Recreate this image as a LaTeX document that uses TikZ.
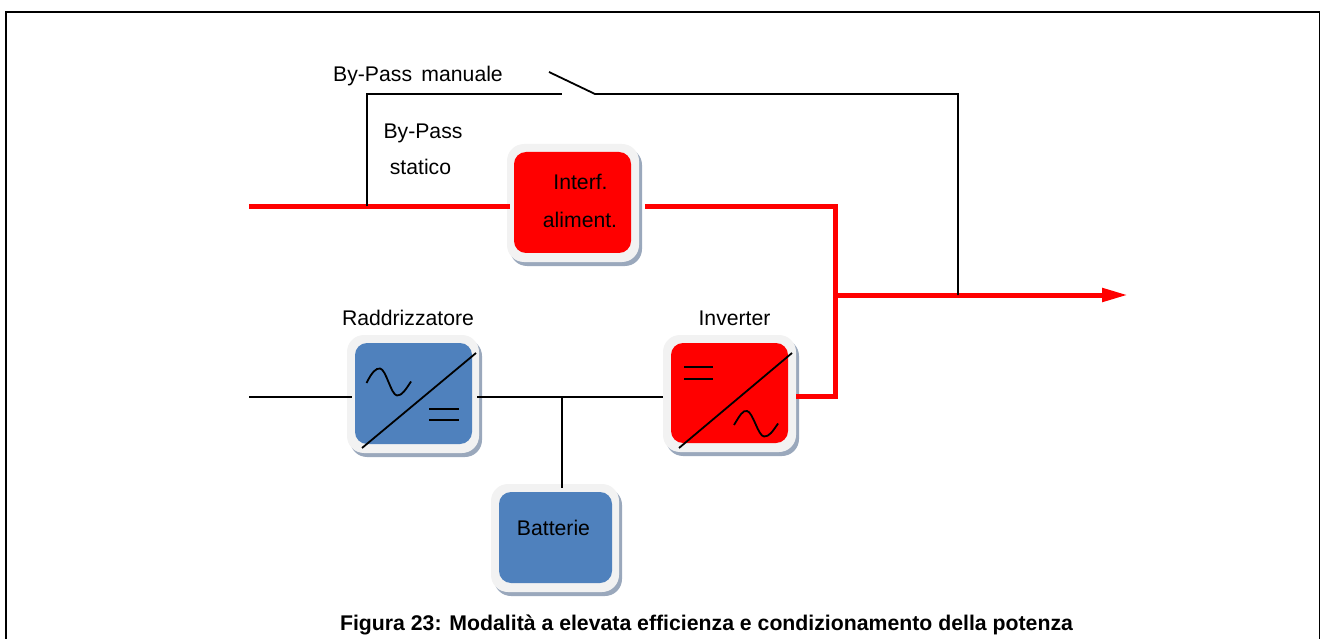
\documentclass[tikz,border=0pt]{standalone}
\usepackage{fontspec}
\setmainfont{Liberation Sans}
\usetikzlibrary{shadows,arrows.meta}
\definecolor{boxblue}{HTML}{4F81BD}
\definecolor{boxrim}{HTML}{F2F2F2}
\definecolor{boxshade}{HTML}{9AA8BC}
\tikzset{
  x=1pt,y=-1pt,
  rim/.style={fill=boxrim,rounded corners=17pt,inner sep=0pt,
    general shadow={shadow xshift=3pt,shadow yshift=-4pt,fill=boxshade}},
  core/.style={rounded corners=12pt,inner sep=0pt},
  label/.style={anchor=base,inner sep=0pt,font=\fontsize{21.2}{25}\selectfont},
  thin line/.style={line width=1.8pt,black,line join=miter},
  power/.style={line width=5pt,red,line join=miter},
}
\begin{document}
\begin{tikzpicture}
\useasboundingbox (0,0) rectangle (1320,639);
% frame
\coordinate (fbl) at (6,639);
\coordinate (ftl) at (6,12);
\coordinate (ftr) at (1319.5,12);
\coordinate (fbr) at (1319.5,639);
\draw[line width=1.7pt] (fbl) -- (ftl) -- (ftr) -- (fbr);
% free ends and junctions
\coordinate (mainin) at (249,206.3);
\coordinate (bypassj) at (367,206.3);
\coordinate (bypasstop) at (367,94);
\coordinate (swopen) at (562,94);
\coordinate (swtip) at (549,72);
\coordinate (swhinge) at (595,94);
\coordinate (cornerA) at (835,206.3);
\coordinate (cornerB) at (835,396.8);
\coordinate (outj) at (835,295);
\coordinate (outend) at (1128,295);
\coordinate (manj) at (958,295);
\coordinate (mantop) at (958,94);
\coordinate (acin) at (249,397);
\coordinate (dcj) at (562,397);
% boxes
\node[rim,minimum width=132pt,minimum height=118pt] (iface) at (573,203) {};
\node[core,fill=red,minimum width=117pt,minimum height=101pt] (ifacecore) at (572.5,202.5) {};
\node[rim,minimum width=132pt,minimum height=118pt] (rect) at (413,394) {};
\node[core,fill=boxblue,minimum width=117pt,minimum height=101pt] (rectcore) at (413.5,393.5) {};
\node[rim,minimum width=133pt,minimum height=117pt] (inv) at (729.5,393.5) {};
\node[core,fill=red,minimum width=117pt,minimum height=100pt] (invcore) at (729.5,393) {};
\node[rim,minimum width=128pt,minimum height=108pt] (batt) at (555,538) {};
\node[core,fill=boxblue,minimum width=113pt,minimum height=91pt] (battcore) at (555.5,537.5) {};
% power path
\draw[power,shorten >=-3pt] (mainin) -- (iface.west |- mainin);
\draw[power,shorten <=6pt] (iface.east |- cornerA) -- (cornerA) -- (cornerB) -- (inv.east |- cornerB);
\draw[power,-{Triangle[length=26pt,width=13pt]}] (outj) -- (outend);
% thin path
\draw[thin line] (bypassj) -- (bypasstop) -- (swopen);
\draw[thin line] (swtip) -- (swhinge) -- (mantop) -- (manj);
\draw[thin line,shorten >=-5pt] (acin) -- (rect.west |- acin);
\draw[thin line,shorten <=-2pt] (rect.east |- dcj) -- (inv.west |- dcj);
\draw[thin line,shorten >=-4pt] (dcj) -- (batt.north -| dcj);
% converter symbols
\draw[thin line] (362,448) -- (476,353);
\draw[thin line] (429,409) -- (459,409) (429,420) -- (459,420);
\draw[thin line] (366.5,383) .. controls (372,372) and (376,368) .. (380,368.5)
  .. controls (386,369) and (391,395) .. (397,395.5)
  .. controls (402,396) and (406,389) .. (411,381.5);
\draw[thin line] (679,448) -- (792,353);
\draw[thin line] (684,367) -- (713,367) (684,379) -- (713,379);
\draw[thin line] (734,425) .. controls (740,415) and (743,410) .. (747,411)
  .. controls (753,412) and (758,436) .. (764,436.5)
  .. controls (769,437) and (773,431) .. (778,423.5);
% labels
\node[label] (tman) at (418,82) {By-Pass\ \kern3.5pt manuale};
\node[label] (tbp) at (423,139) {By-Pass};
\node[label] (tst) at (420.5,175) {statico};
\node[label] (tif) at (580.5,190) {Interf.};
\node[label] (tal) at (580,228) {aliment.};
\node[label] (trd) at (408,325) {Raddrizzatore};
\node[label] (tin) at (734.5,325) {Inverter};
\node[label] (tba) at (553.5,535) {Batterie};
\node[label,font=\fontsize{21.25}{25}\selectfont\bfseries] (cap) at (706.5,630) {Figura 23: Modalità a elevata efficienza e condizionamento della potenza};
\end{tikzpicture}
\end{document}
